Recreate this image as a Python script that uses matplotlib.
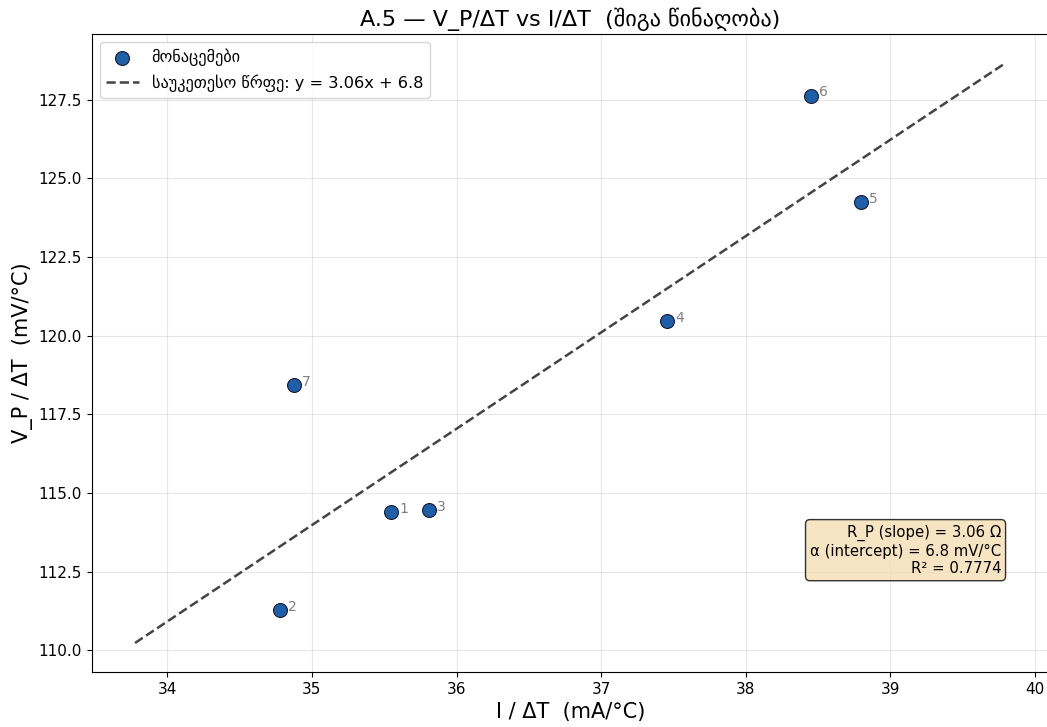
import matplotlib
matplotlib.use('Agg')
import matplotlib.pyplot as plt
import numpy as np

# measured points (I/dT in mA/C, V_P/dT in mV/C)
i_dt = [35.545, 34.777, 35.808, 37.454, 38.796, 38.45, 34.874]
vp_dt = [114.39, 111.27, 114.45, 120.46, 124.25, 127.62, 118.43]
point_ids = ['1', '2', '3', '4', '5', '6', '7']

SLOPE = 3.061
INTERCEPT = 6.845

fig = plt.figure(figsize=(10.47, 7.27), dpi=100)
ax = fig.add_subplot(1, 1, 1)
fig.subplots_adjust(left=0.0874, right=1.0019, top=0.9532, bottom=0.0757)

ax.scatter(i_dt, vp_dt, s=100, color='#1f5fa8', edgecolor='#1a1a2e',
           linewidth=0.8, zorder=3, label='მონაცემები')

for x, y, n in zip(i_dt, vp_dt, point_ids):
    ax.annotate(n, (x, y), xytext=(6, -0.5), textcoords='offset points',
                fontsize=10, color='grey')

xs = np.linspace(min(i_dt) - 1, max(i_dt) + 1, 100)
ax.plot(xs, SLOPE * xs + INTERCEPT, '--', color='#444444', lw=1.8,
        label='საუკეთესო წრფე: y = 3.06x + 6.8')

ax.set_xlabel('I / ΔT  (mA/°C)', fontsize=15)
ax.set_ylabel('V_P / ΔT  (mV/°C)', fontsize=15)
ax.set_title('A.5 — V_P/ΔT vs I/ΔT  (შიგა წინაღობა)', fontsize=16)
ax.tick_params(labelsize=11)
ax.grid(True, alpha=0.3)
ax.legend(loc='upper left', fontsize=11.7)

txt = 'R_P (slope) = 3.06 Ω\nα (intercept) = 6.8 mV/°C\nR² = 0.7774'
ax.text(0.95, 0.15, txt, transform=ax.transAxes, fontsize=10.7,
        ha='right', va='bottom',
        bbox=dict(boxstyle='round', facecolor='wheat', alpha=0.8))

fig.savefig('out.png', dpi=100)
